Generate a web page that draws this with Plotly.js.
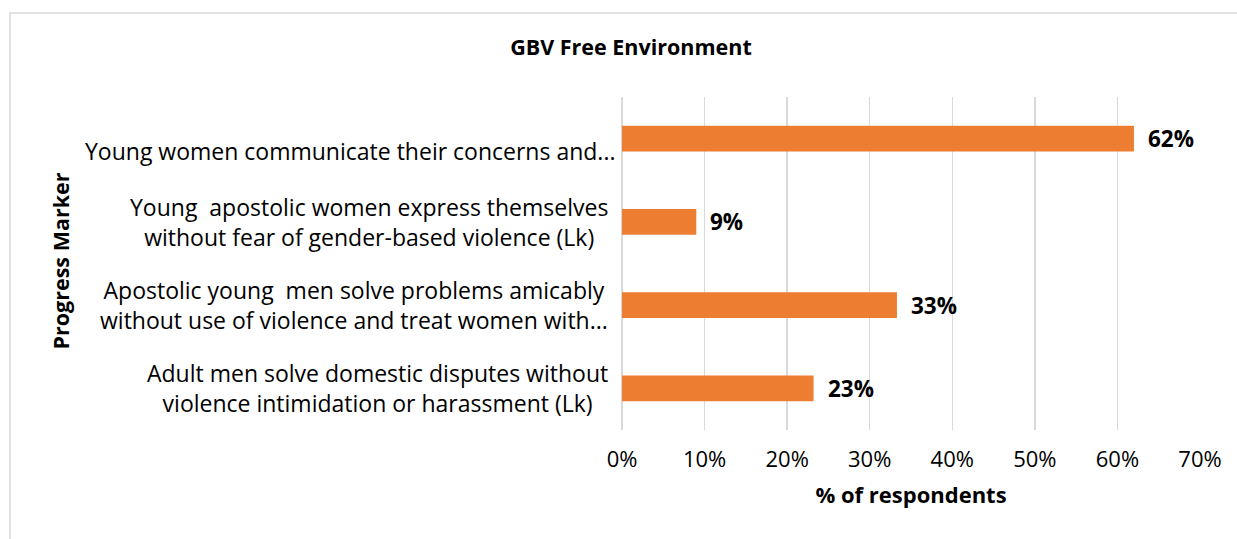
<!DOCTYPE html>
<html>
<head>
<meta charset="utf-8">
<script src="https://cdn.plot.ly/plotly-3.0.1.min.js"></script>
<style>
html,body{margin:0;padding:0;background:#fff;}
#chart{width:1237px;height:539px;}
</style>
</head>
<body>
<div id="chart"></div>
<script>
const categories = [
  "Young women communicate their concerns and...",
  "Young  apostolic women express themselves<br>without fear of gender-based violence (Lk)",
  "Apostolic young  men solve problems amicably<br>without use of violence and treat women with...",
  "Adult men solve domestic disputes without<br>violence intimidation or harassment (Lk)"
];
const values = [0.62, 0.09, 0.333, 0.232];
const valueLabels = ["62%", "9%", "33%", "23%"];
const xTicks = [0, 0.1, 0.2, 0.3, 0.4, 0.5, 0.6, 0.7];
const xTickLabels = ["0%", "10%", "20%", "30%", "40%", "50%", "60%", "70%"];

const FONT = "'Open Sans', sans-serif";

const trace = {
  type: "bar",
  orientation: "h",
  y: categories,
  x: values,
  marker: {color: "#ED7D31"},
  hoverinfo: "none"
};

const annotations = [];
categories.forEach((c, i) => {
  const single = c.indexOf("<br>") < 0;
  annotations.push({
    xref: "paper", yref: "y", x: 0, y: c,
    xanchor: "right", yanchor: "middle",
    xshift: single ? -5 : -12, yshift: single ? -12 : 0,
    text: c, showarrow: false, align: "center",
    font: {family: FONT, size: 23, color: "#000"}
  });
  annotations.push({
    xref: "x", yref: "y", x: values[i], y: c,
    xanchor: "left", yanchor: "middle", xshift: 12,
    text: "<b>" + valueLabels[i] + "</b>", showarrow: false,
    font: {family: FONT, size: 22.5, color: "#000"}
  });
});
annotations.push({
  xref: "paper", yref: "paper", x: 0, xshift: -562, y: 0.5, yshift: 2,
  xanchor: "center", yanchor: "middle", textangle: -90,
  text: "<b>Progress Marker</b>", showarrow: false,
  font: {family: FONT, size: 21.5, color: "#000"}
});

const layout = {
  width: 1237, height: 539,
  margin: {l: 622, r: 37, t: 97, b: 109},
  paper_bgcolor: "#fff", plot_bgcolor: "#fff",
  showlegend: false,
  bargap: 0.69,
  title: {
    text: "<b>GBV Free Environment</b>",
    xref: "container", x: 631/1237, xanchor: "center",
    yref: "container", y: 1 - 47/539, yanchor: "middle",
    font: {family: FONT, size: 21.5, color: "#000"}
  },
  xaxis: {
    range: [0, 0.7],
    tickvals: xTicks, ticktext: xTickLabels,
    showgrid: true, gridcolor: "#d9d9d9", gridwidth: 1.5,
    zeroline: true, zerolinecolor: "#d9d9d9", zerolinewidth: 1.5,
    showline: false, ticks: "",
    ticklabelstandoff: 14,
    tickfont: {family: FONT, size: 22, color: "#000"},
    title: {text: "<b>% of respondents</b>", standoff: 15,
            font: {family: FONT, size: 22, color: "#000"}},
    fixedrange: true
  },
  yaxis: {
    type: "category", autorange: "reversed",
    showticklabels: false, showgrid: false, zeroline: false,
    showline: false, ticks: "", fixedrange: true
  },
  annotations: annotations,
  shapes: [{
    type: "rect", xref: "paper", yref: "paper",
    x0: (10 - 622) / 578, x1: 1.3, y0: -0.6, y1: (430 - 13) / 333,
    line: {color: "#d9d9d9", width: 1.5}, fillcolor: "rgba(0,0,0,0)", layer: "below"
  }]
};

Plotly.newPlot("chart", [trace], layout, {displayModeBar: false, staticPlot: true});
</script>
</body>
</html>
